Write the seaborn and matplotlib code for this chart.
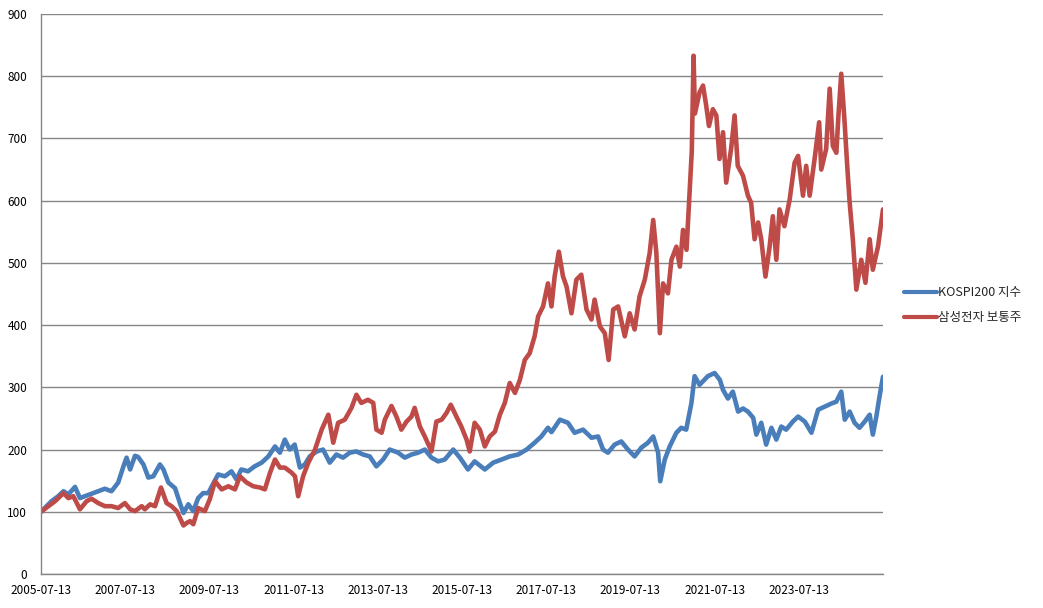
import numpy as np
import pandas as pd
import matplotlib
matplotlib.use("Agg")
import matplotlib.pyplot as plt
import seaborn as sns

START = "2005-07-13"
series_names = ["KOSPI200 지수", "삼성전자 보통주"]
colors = ["#4A7EBB", "#BE4B48"]

# months elapsed since 2005-07-13, and index values (base 100)
kospi_months = [0, 3.0, 4.9, 6.4, 7.8, 9.7, 11.1, 12.5, 14.4, 16.3, 18.2, 20.1, 22.0, 23.5, 24.4, 25.4,
                26.8, 27.7, 29.2, 30.6, 32.0, 33.9, 34.9, 36.3, 38.2, 39.6, 40.6, 42.0, 43.4, 44.8,
                46.2, 47.7, 48.6, 50.5, 52.4, 54.3, 55.7, 57.1, 59.0, 60.9, 62.9, 64.8, 66.7, 68.1,
                69.5, 70.9, 72.3, 73.8, 75.2, 76.6, 78.6, 80.4, 82.3, 84.2, 86.1, 88.0, 89.9, 91.8,
                93.7, 95.6, 97.5, 99.4, 101.8, 103.7, 105.6, 107.5, 109.4, 111.3, 113.2, 115.1,
                117.5, 119.4, 121.7, 123.6, 126.5, 128.9, 131.3, 133.6, 136.0, 138.4, 140.7, 142.6,
                144.5, 145.5, 147.9, 150.2, 152.1, 154.5, 156.9, 158.8, 160.2, 161.6, 163.5, 165.4,
                167.3, 169.2, 171.1, 173.0, 174.5, 175.9, 176.5, 177.8, 179.2, 181.1, 182.5, 183.9,
                185.4, 186.3, 187.7, 190.1, 192.0, 193.5, 194.4, 195.8, 197.2, 198.7, 200.1, 201.5,
                203.0, 203.9, 205.3, 206.7, 208.2, 209.6, 211.0, 212.4, 214.3, 215.8, 217.7, 219.6,
                221.5, 223.4, 225.3, 226.7, 228.1, 229.1, 230.5, 231.9, 233.3, 234.8, 236.2, 237.1,
                238.1, 239.0, 240.0]
kospi_values = [100, 117, 125, 133, 128, 140, 122, 125, 129, 133, 137, 133, 147, 173, 187, 168,
                190, 188, 176, 155, 157, 176, 168, 147, 138, 114, 98, 112, 101, 122,
                130, 130, 140, 160, 157, 165, 152, 168, 165, 173, 179, 189, 205, 195,
                216, 200, 208, 171, 176, 189, 197, 200, 179, 192, 187, 195, 197, 192,
                189, 173, 184, 200, 195, 187, 192, 195, 200, 187, 181, 184,
                200, 187, 168, 181, 168, 179, 184, 189, 192, 200, 211, 221,
                235, 228, 248, 243, 227, 232, 219, 221, 200, 195, 208, 213,
                200, 189, 203, 211, 221, 195, 149, 184, 205, 227, 235, 232,
                275, 318, 304, 318, 323, 312, 296, 282, 293, 261, 266, 261,
                251, 224, 243, 208, 235, 216, 237, 232, 245, 253, 245, 227,
                264, 269, 274, 277, 293, 248, 261, 243, 235, 245, 256, 224,
                253, 285, 317]

samsung_months = [0, 2.1, 4.0, 6.4, 7.8, 9.2, 11.1, 13.0, 14.4, 16.3, 18.2, 20.1, 22.0, 23.9, 25.4,
                  26.8, 28.7, 29.6, 31.1, 32.5, 34.2, 35.8, 37.2, 38.7, 39.6, 40.6, 41.5, 42.5,
                  43.4, 44.8, 46.7, 48.1, 49.6, 51.5, 53.4, 55.3, 56.7, 58.6, 60.5, 62.4, 63.8,
                  65.3, 66.7, 68.1, 69.5, 71.4, 72.4, 73.3, 74.7, 76.2, 78.1, 80.0, 81.9, 83.3,
                  84.7, 86.6, 88.5, 89.9, 91.3, 93.2, 94.7, 95.6, 97.1, 98.0, 99.9, 101.3, 102.7,
                  104.2, 105.6, 106.5, 108.0, 109.4, 111.3, 112.7, 114.2, 115.6, 116.8, 118.4,
                  119.8, 121.3, 122.2, 123.6, 125.1, 126.5, 127.9, 129.4, 130.8, 132.2, 133.6,
                  135.1, 136.5, 137.9, 139.3, 140.7, 141.7, 143.1, 144.5, 145.5, 146.4, 147.6,
                  148.8, 149.8, 151.2, 152.6, 154.0, 155.5, 156.9, 157.8, 159.3, 160.7, 161.8,
                  163.1, 164.5, 166.4, 167.8, 169.2, 170.6, 172.1, 173.5, 174.5, 175.4, 176.4,
                  177.3, 178.7, 179.7, 181.1, 182.1, 183.0, 184.0, 184.9, 185.5, 186.0, 186.4,
                  187.7, 188.7, 189.6, 190.4, 191.5, 192.5, 193.4, 194.4, 195.3, 196.7, 197.7,
                  198.6, 200.1, 201.5, 202.4, 203.4, 204.4, 205.3, 206.5, 207.7, 208.6, 209.6,
                  210.5, 211.9, 213.4, 214.8, 215.8, 217.2, 218.1, 219.1, 220.5, 221.8, 222.4,
                  223.8, 224.8, 225.7, 226.7, 227.3, 228.1, 229.0, 229.8, 230.5, 231.4, 232.4,
                  233.8, 235.0, 236.2, 237.1, 238.6, 240.0]
samsung_values = [100, 109, 117, 130, 122, 125, 104, 117, 121, 114, 109, 109, 106, 114, 104,
                  101, 109, 104, 112, 109, 139, 114, 109, 101, 90, 78, 82, 85,
                  80, 106, 101, 120, 149, 136, 141, 136, 157, 147, 141, 139, 136,
                  163, 184, 171, 171, 163, 157, 125, 157, 179, 200, 232, 256, 211,
                  243, 248, 267, 288, 275, 280, 275, 232, 227, 248, 270, 253, 232,
                  245, 253, 267, 237, 221, 197, 245, 248, 259, 272, 253,
                  237, 216, 197, 243, 232, 205, 221, 229, 256, 275, 307,
                  291, 312, 344, 355, 382, 414, 430, 467, 430, 478, 518,
                  478, 462, 419, 473, 481, 425, 409, 441, 398, 387, 344,
                  425, 430, 382, 419, 393, 446, 473, 516, 569, 516, 387,
                  467, 451, 505, 526, 494, 553, 521, 618, 680, 833, 740,
                  774, 785, 753, 720, 747, 737, 667, 710, 629, 683, 737,
                  656, 640, 608, 597, 538, 565, 538, 478, 527, 575, 505,
                  586, 559, 602, 661, 672, 608, 656, 608, 667, 726, 650,
                  683, 780, 688, 677, 737, 804, 731, 656, 597, 538, 457,
                  505, 468, 538, 489, 527, 586]

tick_labels = ["2005-07-13", "2007-07-13", "2009-07-13", "2011-07-13", "2013-07-13",
               "2015-07-13", "2017-07-13", "2019-07-13", "2021-07-13", "2023-07-13"]
y_ticks = [0, 100, 200, 300, 400, 500, 600, 700, 800, 900]

start = pd.Timestamp(START)
def to_dates(months):
    return start + pd.to_timedelta(np.array(months) * 30.4375, unit="D")

df = pd.concat([
    pd.DataFrame({"date": to_dates(kospi_months), "value": kospi_values, "series": series_names[0]}),
    pd.DataFrame({"date": to_dates(samsung_months), "value": samsung_values, "series": series_names[1]}),
], ignore_index=True)

sns.set_theme(style="white")
plt.rcParams["font.family"] = ["Noto Sans CJK KR", "DejaVu Sans"]

fig = plt.figure(figsize=(10.43, 6.08), dpi=100)
ax = fig.add_axes([41 / 1043, 1 - 574 / 608, (883 - 41) / 1043, (574 - 14) / 608])

sns.lineplot(data=df, x="date", y="value", hue="series", hue_order=series_names,
             palette=colors, estimator=None, sort=True, linewidth=3.3, ax=ax, legend=False)

ax.set_ylim(0, 900)
ax.set_yticks(y_ticks)
ax.set_yticklabels([str(v) for v in y_ticks])
ax.set_xlim(start, start + pd.DateOffset(years=20))
tick_dates = [pd.Timestamp(t) for t in tick_labels]
ax.set_xticks(tick_dates)
ax.set_xticklabels(tick_labels)
ax.set_xlabel("")
ax.set_ylabel("")

ax.grid(axis="y", color="#868686", linewidth=1.0)
ax.grid(axis="x", visible=False)
ax.set_axisbelow(True)
for s in ["top", "right"]:
    ax.spines[s].set_visible(False)
for s in ["left", "bottom"]:
    ax.spines[s].set_color("#868686")
    ax.spines[s].set_linewidth(1.0)
ax.tick_params(axis="both", which="major", length=4, width=1, color="#868686",
               labelsize=8.5, labelcolor="#000000", direction="out", pad=3)
ax.tick_params(axis="y", pad=6)

handles = [plt.Line2D([0], [0], color=c, linewidth=3.0) for c in colors]
fig.legend(handles, series_names, loc="center left", bbox_to_anchor=(893 / 1043, 1 - 305 / 608),
           frameon=False, fontsize=9, handlelength=2.6, handletextpad=0.1, labelspacing=0.95)

fig.savefig("out.png", dpi=100)
